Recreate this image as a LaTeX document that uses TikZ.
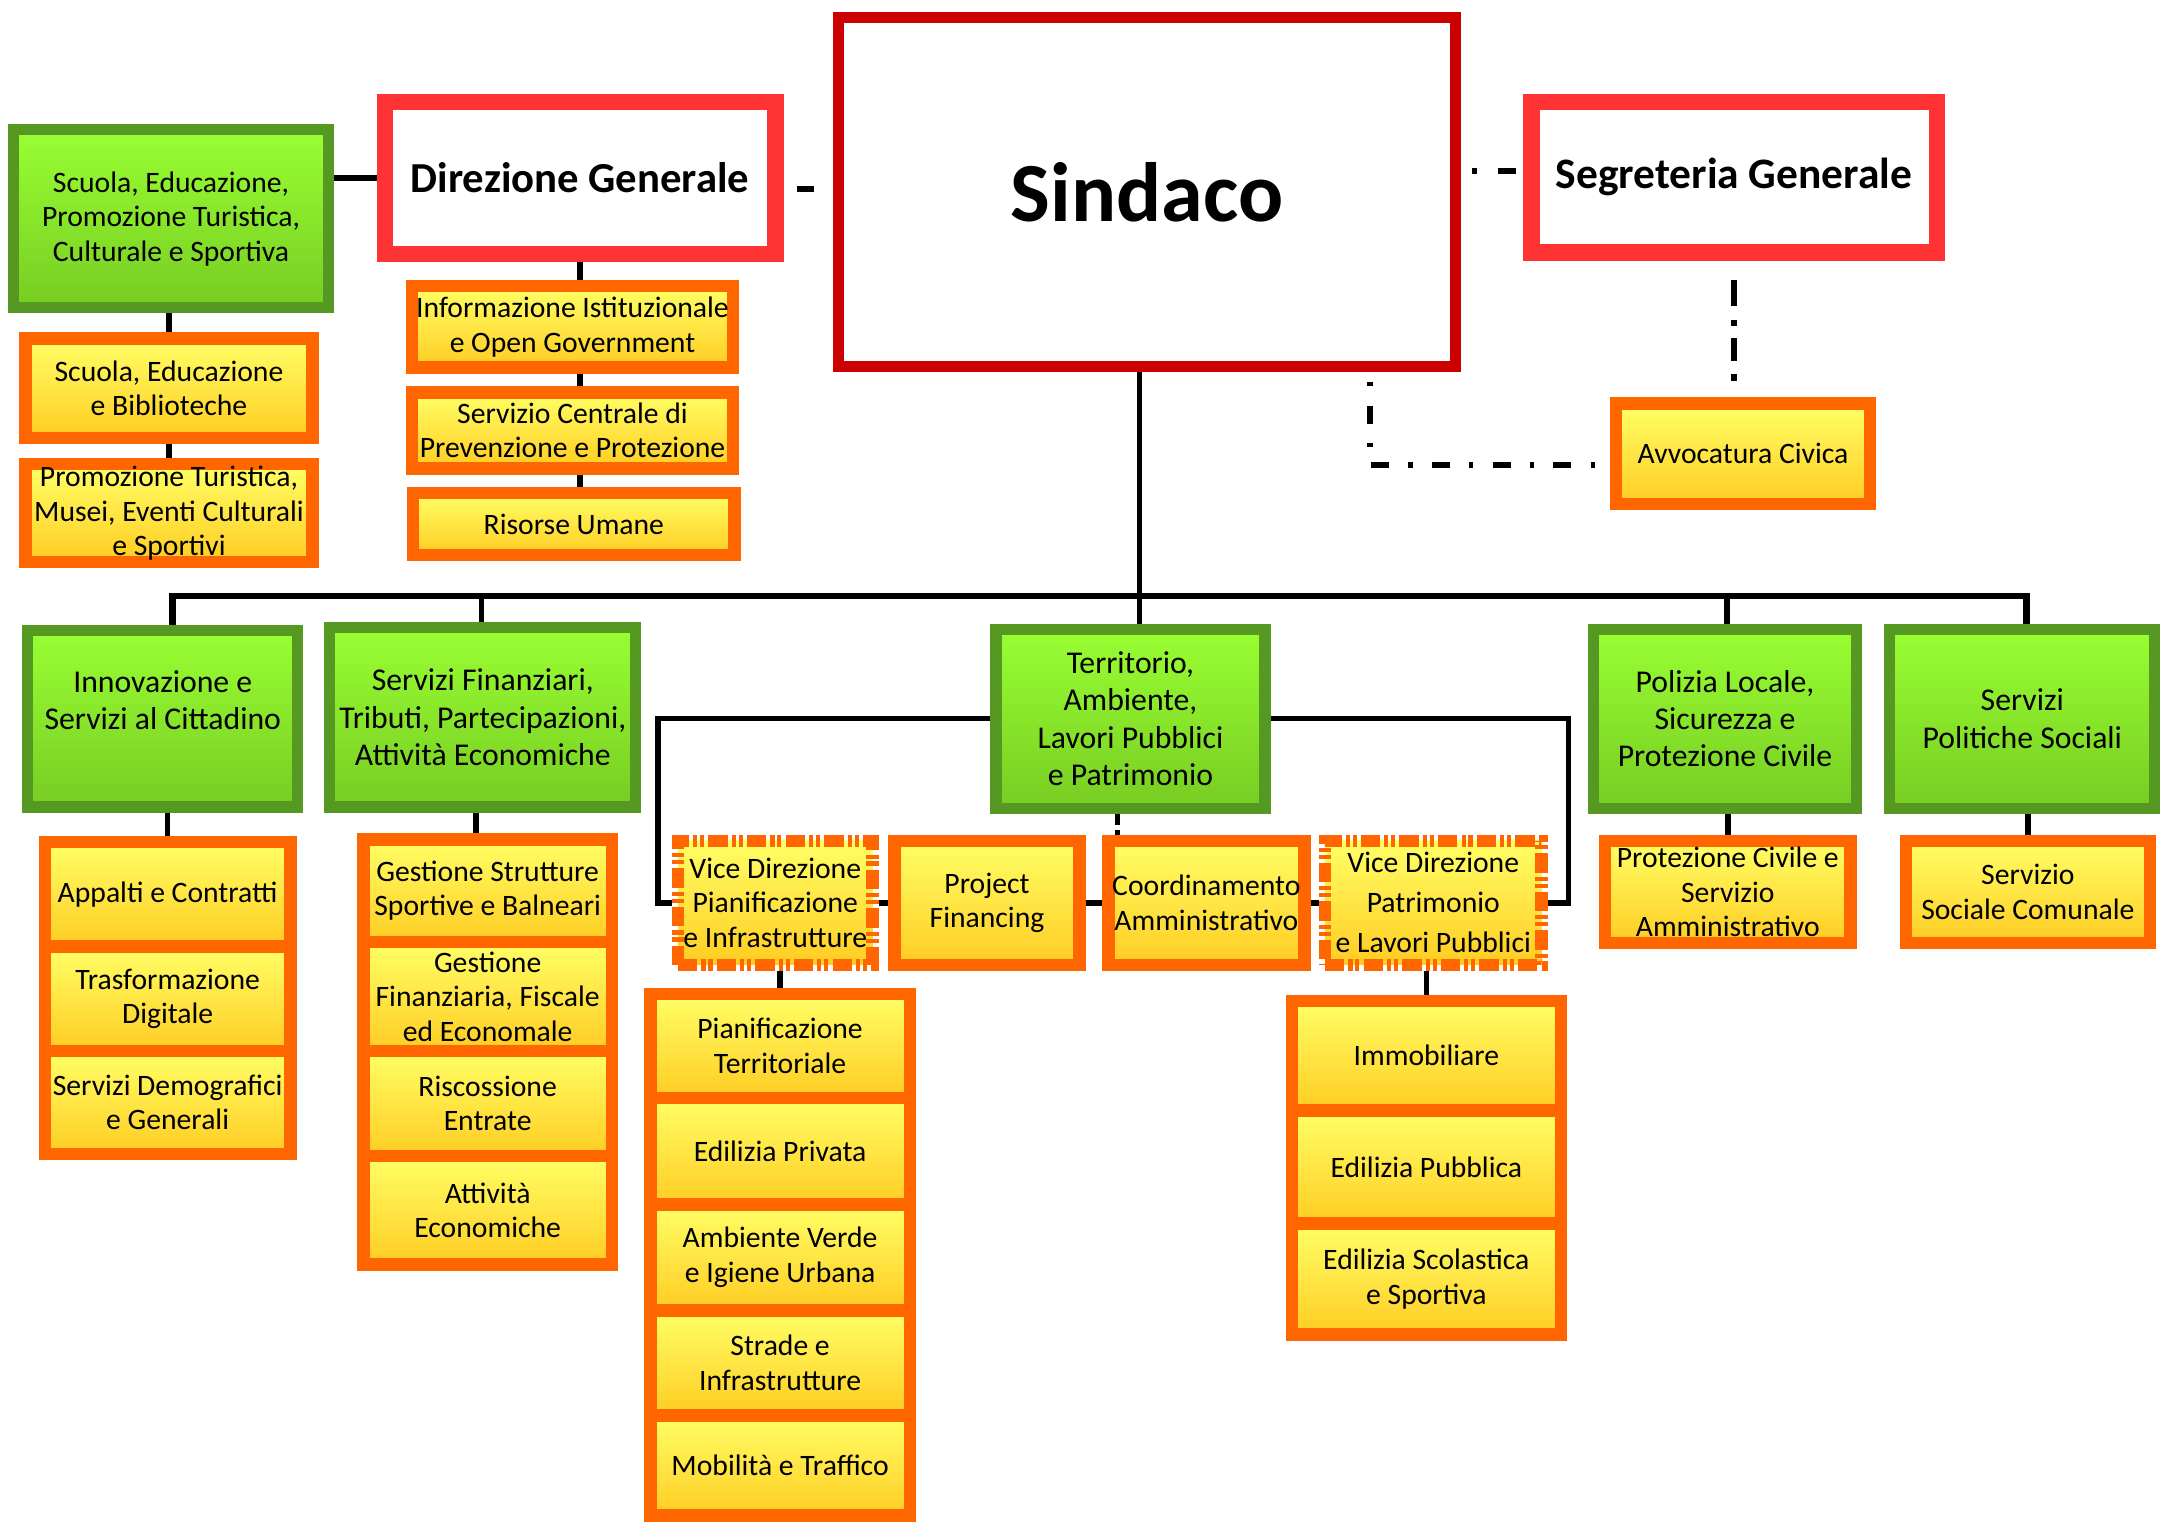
\documentclass[tikz,border=0pt]{standalone}
\usepackage{fontspec}
\setmainfont{Carlito}
\definecolor{grBord}{HTML}{559922}
\definecolor{grTop}{HTML}{99FF33}
\definecolor{grBot}{HTML}{77CC22}
\definecolor{orBord}{HTML}{FF6600}
\definecolor{yTop}{HTML}{FFFF66}
\definecolor{yBot}{HTML}{FFCC22}
\definecolor{rdBord}{HTML}{FF3333}
\definecolor{sdBord}{HTML}{CC0000}
\newcommand\bx[8]{\node[#2, line width=#8pt, minimum width={#5-#3-#8}, minimum height={#6-#4-#8}] (#1) at ({(#3+#5)/2},{(#4+#6)/2}) {#7};}
\begin{document}
\begin{tikzpicture}[x=1pt,y=-1pt,
  gbox/.style={draw=grBord, top color=grTop, bottom color=grBot, align=center, inner sep=0pt, font=\fontsize{23}{27}\selectfont},
  ybox/.style={draw=orBord, top color=yTop, bottom color=yBot, align=center, inner sep=0pt, font=\fontsize{21.5}{25}\selectfont},
  vdbox/.style={ybox, dash pattern=on 14pt off 3pt on 3pt off 2pt on 3pt off 3pt},
  rbox/.style={draw=rdBord, fill=white, align=center, inner sep=0pt, font=\fontsize{31}{36}\selectfont\bfseries},
  sbox/.style={draw=sdBord, fill=white, align=center, inner sep=0pt, font=\fontsize{61}{70}\selectfont\bfseries},
  conn/.style={line width=4pt, black, line join=miter},
  dconn/.style={line width=4.5pt, black}]
\fill[white] (0,0) rectangle (1568,1104);
\useasboundingbox (0,0) rectangle (1568,1104);
% top level
\bx{sind}{sbox}{604}{9}{1059}{270}{Sindaco}{8}
\bx{dg}{rbox}{273}{68}{568}{190}{Direzione Generale}{12}
\bx{seg}{rbox, font=\fontsize{31.5}{36}\selectfont\bfseries}{1104}{68}{1410}{189}{Segreteria Generale}{12}
\bx{g0}{gbox, font=\fontsize{21.5}{25}\selectfont}{6}{90}{242}{227}{Scuola, Educazione,\\Promozione Turistica,\\Culturale e Sportiva}{8}
\bx{o1}{ybox}{14}{241}{231}{322}{Scuola, Educazione\\e Biblioteche}{9}
\bx{o2}{ybox}{14}{332}{231}{412}{Promozione Turistica,\\Musei, Eventi Culturali\\e Sportivi}{9}
\bx{inf}{ybox}{294}{203}{536}{271}{Informazione Istituzionale\\e Open Government}{9}
\bx{scp}{ybox}{294}{280}{536}{344}{Servizio Centrale di\\Prevenzione e Protezione}{9}
\bx{ru}{ybox}{295}{353}{537}{407}{Risorse Umane}{9}
\bx{avv}{ybox}{1167}{288}{1360}{370}{Avvocatura Civica}{9}
% second level
\bx{inn}{gbox}{16}{453}{220}{589}{Innovazione e\\Servizi al Cittadino\\\mbox{}}{8}
\bx{sf}{gbox}{235}{451}{465}{589}{Servizi Finanziari,\\Tributi, Partecipazioni,\\Attività Economiche}{8}
\bx{ter}{gbox}{718}{452}{921}{590}{Territorio,\\Ambiente,\\Lavori Pubblici\\e Patrimonio}{8}
\bx{pol}{gbox}{1151}{452}{1350}{590}{Polizia Locale,\\Sicurezza e\\Protezione Civile}{8}
\bx{pso}{gbox}{1366}{452}{1566}{590}{Servizi\\Politiche Sociali}{8}
% third level
\bx{ap}{ybox}{28}{606}{215}{690.5}{Appalti e Contratti}{9}
\bx{td}{ybox}{28}{681.5}{215}{766.5}{Trasformazione\\Digitale}{9}
\bx{sd}{ybox}{28}{757.5}{215}{841}{Servizi Demografici\\e Generali}{9}
\bx{gs}{ybox}{259}{604}{448}{687.5}{Gestione Strutture\\Sportive e Balneari}{9}
\bx{gf}{ybox}{259}{678.5}{448}{766.5}{Gestione\\Finanziaria, Fiscale\\ed Economale}{9}
\bx{re}{ybox}{259}{757.5}{448}{842.5}{Riscossione\\Entrate}{9}
\bx{ae}{ybox}{259}{833.5}{448}{921}{Attività\\Economiche}{9}
\bx{vdp}{vdbox}{487}{605}{637}{704}{Vice Direzione\\Pianificazione\\e Infrastrutture}{9}
\bx{pf}{ybox}{644}{605}{787}{704}{Project\\Financing}{9}
\bx{ca}{ybox}{799}{605}{950}{704}{Coordinamento\\Amministrativo}{9}
\bx{vdt}{vdbox}{956}{605}{1122}{704}{Vice Direzione\\[4pt]Patrimonio\\[4pt]e Lavori Pubblici}{9}
\bx{pt}{ybox}{467}{716}{664}{800.5}{Pianificazione\\Territoriale}{9}
\bx{ep}{ybox}{467}{791.5}{664}{877.5}{Edilizia Privata}{9}
\bx{av}{ybox}{467}{868.5}{664}{954.5}{Ambiente Verde\\e Igiene Urbana}{9}
\bx{si}{ybox}{467}{945.5}{664}{1030.5}{Strade e\\Infrastrutture}{9}
\bx{mt}{ybox}{467}{1021.5}{664}{1103}{Mobilità e Traffico}{9}
\bx{im}{ybox}{932}{721}{1136}{809.5}{Immobiliare}{9}
\bx{epu}{ybox}{932}{800.5}{1136}{891.5}{Edilizia Pubblica}{9}
\bx{es}{ybox}{932}{882.5}{1136}{972}{Edilizia Scolastica\\e Sportiva}{9}
\bx{pc}{ybox}{1159}{605}{1346}{688}{Protezione Civile e\\Servizio\\Amministrativo}{9}
\bx{ssc}{ybox}{1377}{605}{1563}{688}{Servizio\\Sociale Comunale}{9}
% helper coordinates
\coordinate (dgs) at (580,137);
\coordinate (sss) at (1080,124);
\coordinate (sa) at (993,337);
\coordinate (bj) at (826,432);
\coordinate (b1) at (125,432);
\coordinate (b2) at (349,432);
\coordinate (b4) at (1252,432);
\coordinate (b5) at (1469,432);
\coordinate (tl) at (477,521);
\coordinate (tr) at (1137,521);
\coordinate (tc) at (810,597);
\coordinate (sfc) at (345,597);
% connectors
\draw[conn] (g0.east |- dg.west) -- (dg.west);
\draw[conn] (o1.north) -- (o1.north |- g0.south);
\draw[conn] (o2.north) -- (o2.north |- o1.south);
\draw[conn] (dg.south) -- (dg.south |- inf.north);
\draw[conn] (dg.south |- inf.south) -- (dg.south |- scp.north);
\draw[conn] (dg.south |- scp.south) -- (dg.south |- ru.north);
\draw[dconn, dash pattern=on 0pt off 10pt on 12pt off 100pt] (dgs -| dg.east) -- (dgs -| sind.west);
\draw[dconn, dash pattern=on 0pt off 8pt on 4pt off 15pt on 13pt off 50pt] (sss -| sind.east) -- (sss -| seg.west);
\draw[dconn, dash pattern=on 0pt off 14pt on 19pt off 10pt on 4pt off 9pt on 17pt off 9pt on 5pt off 30pt] (seg.south) -- (seg.south |- avv.north);
\draw[dconn, dash pattern=on 3pt off 14pt on 13pt off 14pt, dash phase=37pt] (sa |- sind.south) -- (sa) -- (sa -| avv.west);
\draw[conn] (bj |- sind.south) -- (bj |- ter.north);
\draw[conn, line width=4.5pt] (b1 |- inn.north) -- (b1) -- (b5) -- (b5 |- pso.north);
\draw[conn] (b2) -- (b2 |- sf.north);
\draw[conn] (b4) -- (b4 |- pol.north);
\draw[conn] (ter.west) -- (ter.west -| tl) -- (tl |- vdp.west) -- (vdp.west);
\draw[conn] (ter.east) -- (ter.east -| tr) -- (tr |- vdt.east) -- (vdt.east);
\draw[conn] (vdp.east) -- (pf.west);
\draw[conn] (pf.east) -- (ca.west);
\draw[conn] (ca.east) -- (vdt.west);
\draw[dconn, line width=4pt, dash pattern=on 8pt off 4pt on 3pt off 10pt] (tc |- ter.south) -- (tc |- ca.north);
\draw[conn] (pt.north) -- (pt.north |- vdp.south);
\draw[conn] (im.north) -- (im.north |- vdt.south);
\draw[conn] (ap.north |- inn.south) -- (ap.north);
\draw[conn] (sfc |- sf.south) -- (sfc |- gs.north);
\draw[conn] (pc.north) -- (pc.north |- pol.south);
\draw[conn] (ssc.north) -- (ssc.north |- pso.south);
\end{tikzpicture}
\end{document}
